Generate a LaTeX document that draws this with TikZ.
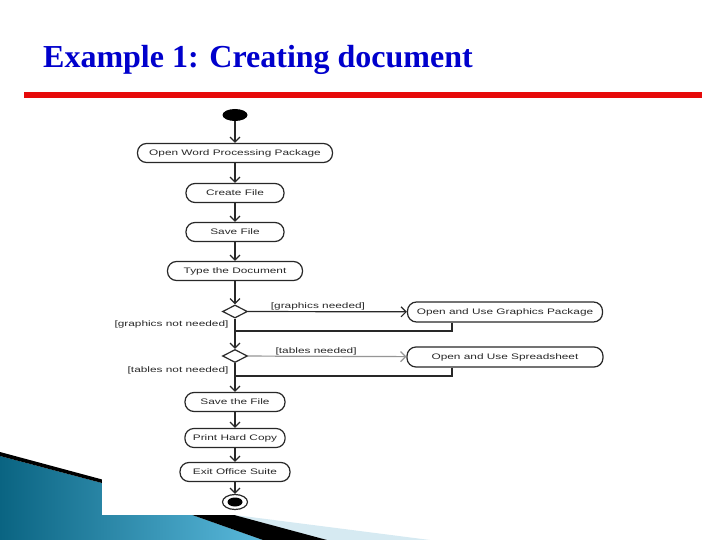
\documentclass[tikz,border=0pt]{standalone}
\usepackage{fontspec}
\setmainfont{Liberation Serif}
\newfontfamily\umlfont[FakeStretch=1.48]{Liberation Sans}
\usepackage{tikz}
\usetikzlibrary{calc,arrows.meta,shapes.geometric}
\usepackage{xcolor}
\definecolor{titleblue}{RGB}{0,0,204}
\definecolor{rulered}{RGB}{230,10,10}
\definecolor{linegray}{RGB}{40,40,40}
\definecolor{tablegray}{RGB}{150,150,150}
\definecolor{tealdark}{RGB}{10,100,130}
\definecolor{teallight}{RGB}{90,185,220}
\definecolor{paleblue}{RGB}{214,234,242}

\begin{document}
\begin{tikzpicture}[x=1pt,y=-1pt,
	act/.style={draw=linegray, line width=1.2pt, rounded corners=9pt, minimum height=19pt,
		inner xsep=8pt, inner ysep=0pt, font=\umlfont\fontsize{8}{9}\selectfont, text=linegray},
	dec/.style={diamond, draw=linegray, line width=1.2pt, aspect=1.9, minimum width=25pt,
		minimum height=13pt, inner sep=0pt},
	lbl/.style={font=\umlfont\fontsize{8}{9}\selectfont, text=linegray, inner sep=1pt},
	line/.style={draw=linegray, line width=1.2pt},
	flow/.style={line, -{Straight Barb[length=5pt,width=10pt]}}]
		\useasboundingbox (0,0) rectangle (720,540);
		% slide background
		\fill[paleblue] (102,498) -- (430,540) -- (102,540) -- cycle;
		\shade[left color=tealdark, right color=teallight] (0,456) -- (102,483) -- (263,540) -- (0,540) -- cycle;
		\fill[black] (0,452) -- (327,540) -- (263,540) -- (102,483) -- (0,456) -- cycle;
		\fill[white] (102,99) rectangle (650,515);
		\node[anchor=base west, inner sep=0pt, text=titleblue, font=\bfseries\fontsize{32}{36}\selectfont] (title) at (43,68) {Example 1: Creating document};
		\draw[rulered, line width=5.5pt] (24,95) -- (702,95);
		% activity nodes
		\node[ellipse, fill=black, minimum width=25pt, minimum height=12pt, inner sep=0pt] (init) at (235,115) {};
		\node[act, minimum width=195pt] (open) at (235,153) {Open Word Processing Package};
		\node[act, minimum width=98pt] (create) at (235,193) {Create File};
		\node[act, minimum width=98pt] (savef) at (235,232) {Save File};
		\node[act, minimum width=135pt] (type) at (235,271) {Type the Document};
		\node[dec] (dec1) at (235,311.5) {};
		\node[act, minimum width=195pt, minimum height=20pt] (graph) at (505,312) {Open and Use Graphics Package};
		\node[dec] (dec2) at (235,356) {};
		\node[act, minimum width=196pt, minimum height=20pt] (sheet) at (505,357) {Open and Use Spreadsheet};
		\node[act, minimum width=100pt] (savethe) at (235,402) {Save the File};
		\node[act, minimum width=100pt] (print) at (235,438) {Print Hard Copy};
		\node[act, minimum width=110pt] (exit) at (235,472) {Exit Office Suite};
		\node[ellipse, draw=linegray, line width=1.2pt, fill=white, minimum width=25pt, minimum height=15pt, inner sep=0pt] (fin) at (235,502) {};
		\fill[black] (fin.center) ellipse (7.5 and 4.5);
		% flows
		\draw[flow] (init) -- (open);
		\draw[flow] (open) -- (create);
		\draw[flow] (create) -- (savef);
		\draw[flow] (savef) -- (type);
		\draw[flow] (type) -- (dec1);
		\draw[flow] (dec1) -- (graph) node[lbl, pos=0.44, above] {[graphics needed]};
		\draw[flow] (dec1) -- (dec2) node[lbl, pos=0.19, left=5pt] {[graphics not needed]};
		\coordinate (m1) at (235,331);
		\draw[line] ($(graph.south)+(-53,0)$) |- (m1);
		\draw[flow, draw=tablegray] (dec2) -- (sheet) node[lbl, pos=0.43, above] {[tables needed]};
		\draw[flow] (dec2) -- (savethe) node[lbl, pos=0.27, left=5pt] {[tables not needed]};
		\coordinate (m2) at (235,376);
		\draw[line] ($(sheet.south)+(-53,0)$) |- (m2);
		\draw[flow] (savethe) -- (print);
		\draw[flow] (print) -- (exit);
		\draw[flow] (exit) -- (fin);
\end{tikzpicture}
\end{document}
